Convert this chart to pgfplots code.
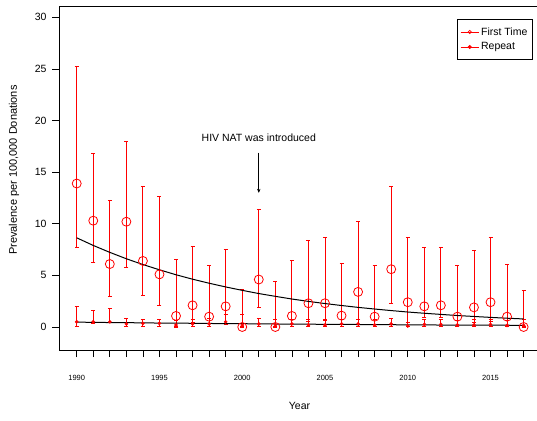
\documentclass[border=0pt]{standalone}
\usepackage{pgfplots}
\pgfplotsset{compat=1.18}
\usepackage{pgfplotstable}
\usepackage{fontspec}
\setmainfont{Liberation Sans}
\usetikzlibrary{arrows.meta}

% first time donors: year, prevalence, lower, upper
\pgfplotstableread{
year  y     lo    hi
1990  13.9  7.7   25.2
1991  10.3  6.3   16.8
1992  6.1   3.0   12.3
1993  10.2  5.8   18.0
1994  6.4   3.1   13.6
1995  5.1   2.1   12.6
1996  1.07  0.0   6.5
1997  2.1   0.4   7.8
1998  1.0   0.1   6.0
1999  2.0   0.3   7.5
2000  0.0   0.0   3.6
2001  4.6   1.9   11.4
2002  0.0   0.0   4.4
2003  1.07  0.1   6.4
2004  2.3   0.5   8.4
2005  2.3   0.6   8.7
2006  1.1   0.1   6.2
2007  3.4   0.7   10.2
2008  1.0   0.1   6.0
2009  5.6   2.3   13.6
2010  2.4   0.4   8.7
2011  2.0   0.9   7.7
2012  2.1   0.9   7.7
2013  1.0   0.1   6.0
2014  1.9   0.4   7.4
2015  2.4   0.5   8.7
2016  1.0   0.1   6.1
2017  0.0   0.0   3.5
}\firsttime

% repeat donors
\pgfplotstableread{
year  y     lo    hi
1990  0.5   0.1   2.0
1991  0.5   0.3   1.6
1992  0.5   0.4   1.8
1993  0.3   0.05  0.85
1994  0.35  0.1   0.7
1995  0.35  0.1   0.7
1996  0.2   0.02  0.6
1997  0.3   0.1   0.75
1998  0.3   0.1   0.8
1999  0.5   0.2   1.2
2000  0.2   0.02  1.2
2001  0.3   0.05  0.85
2002  0.2   0.02  0.7
2003  0.3   0.05  0.75
2004  0.2   0.02  0.7
2005  0.2   0.02  0.7
2006  0.3   0.05  0.75
2007  0.3   0.1   0.7
2008  0.2   0.02  0.7
2009  0.3   0.05  0.85
2010  0.1   0.01  0.45
2011  0.25  0.05  0.7
2012  0.25  0.05  0.7
2013  0.2   0.02  0.6
2014  0.2   0.02  0.7
2015  0.25  0.05  0.7
2016  0.15  0.02  0.6
2017  0.15  0.02  0.7
}\repeatdon

% fitted trends
\pgfplotstableread{
year  ft    rp
1990  8.64  0.47
1991  7.90  0.45
1992  7.23  0.43
1993  6.61  0.42
1994  6.05  0.40
1995  5.54  0.38
1996  5.06  0.37
1997  4.63  0.36
1998  4.24  0.34
1999  3.88  0.33
2000  3.55  0.32
2001  3.24  0.30
2002  2.97  0.29
2003  2.71  0.28
2004  2.48  0.27
2005  2.27  0.26
2006  2.08  0.25
2007  1.90  0.24
2008  1.74  0.23
2009  1.59  0.22
2010  1.45  0.21
2011  1.33  0.20
2012  1.22  0.19
2013  1.11  0.19
2014  1.02  0.18
2015  0.93  0.17
2016  0.85  0.17
2017  0.78  0.16
}\trend

\begin{document}
\begin{tikzpicture}
\path[use as bounding box] (0pt,0pt) rectangle (537pt,-420pt);
\begin{axis}[
  at={(59pt,-350pt)}, anchor=south west,
  scale only axis, width=481pt, height=344pt,
  xmin=1988.93, xmax=2017.99, ymin=-2.23, ymax=31.1,
  axis line style={line width=0.9pt},
  tick pos=left, tick align=outside,
  major tick length=7pt, minor tick length=7pt,
  every tick/.style={black, line width=0.7pt},
  xtick={1990,1995,...,2015},
  minor xtick={1990,...,2017},
  ytick={0,5,...,30},
  /pgf/number format/assume math mode=true,
  /pgf/number format/1000 sep={},
  xticklabel style={font=\fontsize{7.5}{9}\selectfont, yshift=-15pt},
  yticklabel style={font=\fontsize{10.5}{12}\selectfont, xshift=-2pt},
  xlabel={Year},
  xlabel style={at={(axis description cs:0.5,-0.163)}, anchor=center, font=\fontsize{10.5}{12}\selectfont},
  ylabel={Prevalence per 100,000 Donations},
  ylabel style={at={(axis description cs:-0.0936,0.523)}, anchor=center, font=\fontsize{11}{13}\selectfont},
  legend style={at={(0.984,0.962)}, anchor=north east, draw=black, line width=0.8pt,
    font=\fontsize{10.5}{12}\selectfont, inner xsep=2.5pt, inner ysep=6pt, row sep=2pt,
    cells={anchor=west}},
  legend image code/.code={\draw[mark repeat=2,mark phase=2,#1] plot coordinates {(0pt,0pt) (9pt,0pt) (18pt,0pt)};},
  clip=false,
]
\addlegendimage{red, line width=0.8pt, mark=o, mark size=1.6pt, mark options={line width=0.7pt}}
\addlegendentry{First Time}
\addlegendimage{red, line width=0.8pt, mark=*, mark size=1.6pt}
\addlegendentry{Repeat}

\addplot[red, only marks, mark=o, mark size=4.5pt, mark options={line width=0.8pt},
  error bars/.cd, y dir=both, y explicit,
  error bar style={red, line width=0.9pt},
  error mark options={red, line width=0.9pt, mark size=2pt, rotate=90}]
  table[x=year, y=y, y error plus expr=\thisrow{hi}-\thisrow{y}, y error minus expr=\thisrow{y}-\thisrow{lo}] {\firsttime};

\addplot[red, only marks, mark=*, mark size=1.6pt,
  error bars/.cd, y dir=both, y explicit,
  error bar style={red, line width=0.9pt},
  error mark options={red, line width=0.9pt, mark size=2pt, rotate=90}]
  table[x=year, y=y, y error plus expr=\thisrow{hi}-\thisrow{y}, y error minus expr=\thisrow{y}-\thisrow{lo}] {\repeatdon};

\addplot[black, line width=1pt, no marks] table[x=year, y=ft] {\trend};
\addplot[black, line width=1pt, no marks] table[x=year, y=rp] {\trend};

\node[font=\fontsize{10.5}{12}\selectfont] at (axis cs:2001,18.3) {HIV NAT was introduced};
\draw[black, line width=0.6pt, -{Stealth[length=4pt, width=3.5pt]}] (axis cs:2001,16.9) -- (axis cs:2001,13.0);
\end{axis}
\end{tikzpicture}
\end{document}
